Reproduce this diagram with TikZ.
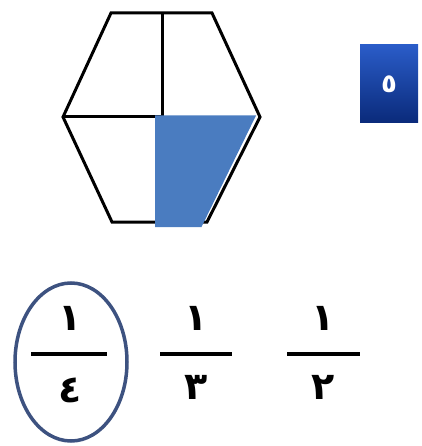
\documentclass[tikz,border=0pt]{standalone}
\usepackage{fontspec}
\newfontfamily\arabicfont[Script=Arabic]{DejaVu Sans}
\usetikzlibrary{shapes.geometric}
\definecolor{quartercol}{HTML}{4A7CC0}
\definecolor{ring}{HTML}{3D5280}
\definecolor{badgetop}{HTML}{2A5CC8}
\definecolor{badgebot}{HTML}{0A2A7A}
\tikzset{
  outline/.style={line width=3pt, line join=miter},
  digit/.style={font=\arabicfont\bfseries\fontsize{38}{38}\selectfont, inner sep=0pt},
  bar/.style={line width=3.5pt},
}
\begin{document}
\begin{tikzpicture}[x=1pt,y=-1pt]
\useasboundingbox (0,0) rectangle (421,446);
% hexagon
\draw[outline] (111,13) -- (212,13) -- (260,117) -- (207,222) -- (112,222) -- (63,117) -- cycle;
\draw[outline] (63,117) -- (162,117);
\draw[outline] (162,13) -- (162,117);
% shaded quarter
\fill[quartercol] (155,115.5) -- (256,115.5) -- (201.5,227) -- (155,227) -- cycle;
% badge
\shade[top color=badgetop, bottom color=badgebot] (360,45) rectangle (418,123);
\node[digit, text=white, font=\arabicfont\bfseries\fontsize{26}{26}\selectfont] (badge) at (389,84) {٥};
% fractions
\node[digit] (n1) at (70,318) {١};
\node[digit] (d1) at (70,390) {٤};
\draw[bar] (31,354) -- (107,354);
\node[digit] (n2) at (196,318) {١};
\node[digit] (d2) at (196,387) {٣};
\draw[bar] (160,354) -- (232,354);
\node[digit] (n3) at (323,318) {١};
\node[digit] (d3) at (323,387) {٢};
\draw[bar] (287,354) -- (360,354);
\draw[ring, line width=3.5pt] (71,362) ellipse [x radius=56, y radius=79];
\end{tikzpicture}
\end{document}
